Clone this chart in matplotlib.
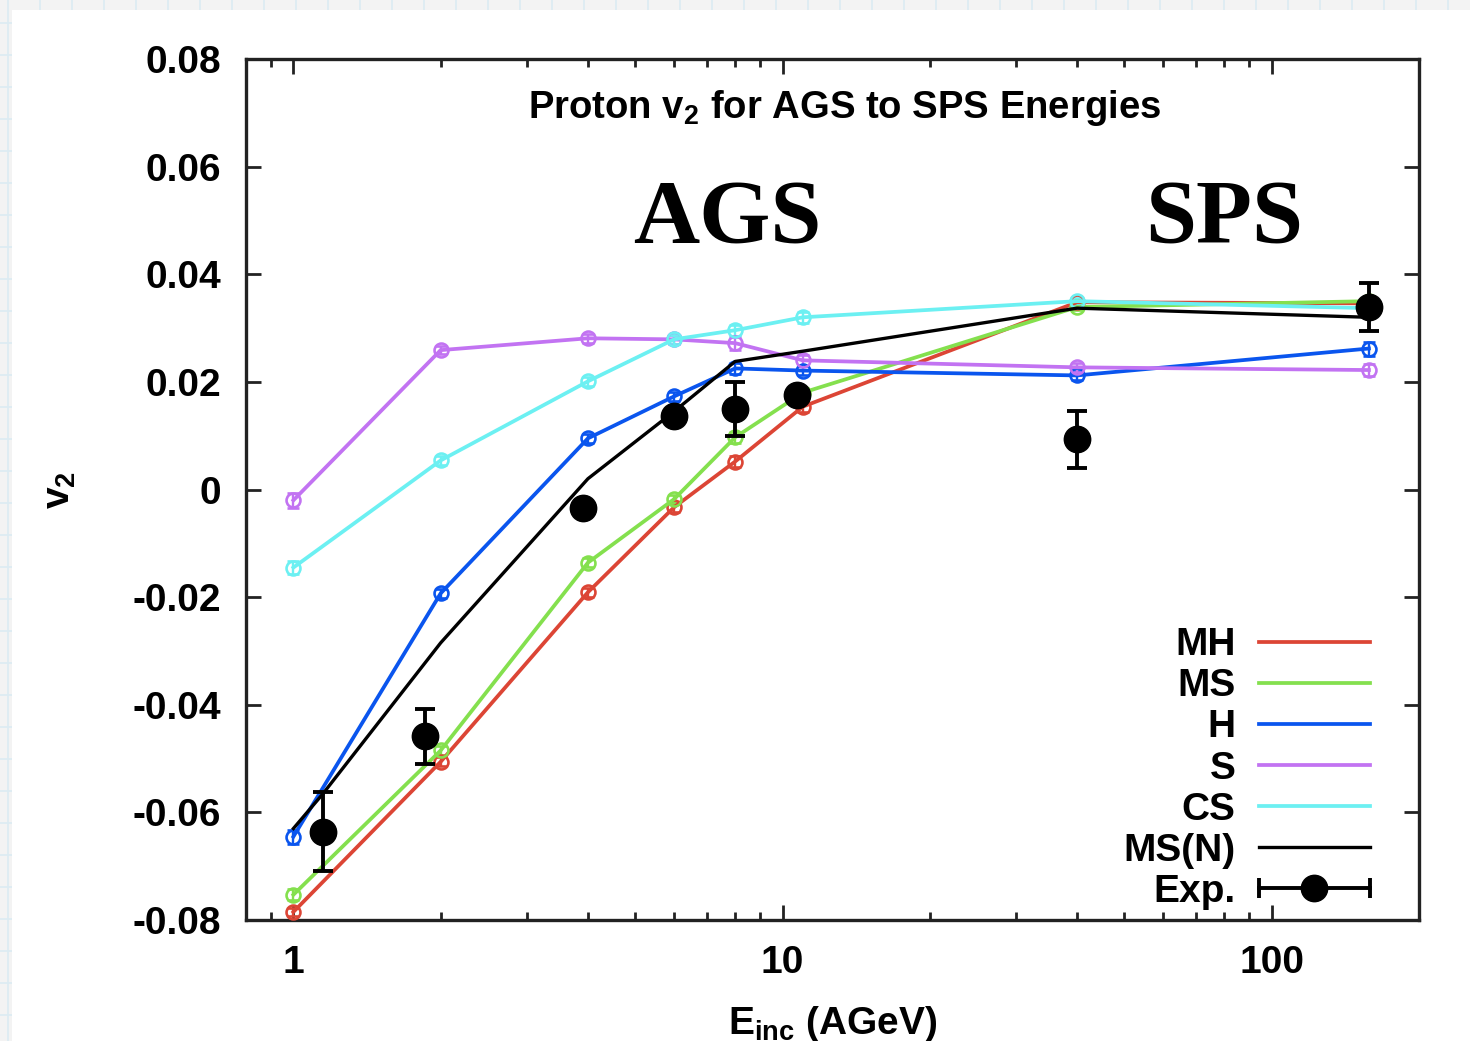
import matplotlib
matplotlib.use("Agg")
import matplotlib.pyplot as plt
from matplotlib.lines import Line2D
from matplotlib.patches import Rectangle
from matplotlib.legend_handler import HandlerLine2D, HandlerTuple
from matplotlib.ticker import LogLocator, NullFormatter

plt.rcParams['font.family'] = ['Liberation Sans', 'DejaVu Sans']
plt.rcParams['font.weight'] = 'bold'
plt.rcParams['mathtext.fontset'] = 'custom'
plt.rcParams['mathtext.rm'] = 'Liberation Sans:bold'
plt.rcParams['mathtext.it'] = 'Liberation Sans:bold'
plt.rcParams['mathtext.bf'] = 'Liberation Sans:bold'

# ---------------- data ----------------
energies = [1, 2, 4, 6, 8, 11, 40, 158]
v2_MH = [-0.0785, -0.0506, -0.0191, -0.0033, 0.0052, 0.0154, 0.0348, 0.0346]
v2_MS = [-0.0753, -0.0485, -0.0136, -0.0018, 0.0097, 0.0180, 0.0339, 0.0350]
v2_H = [-0.0645, -0.0193, 0.0095, 0.0173, 0.0225, 0.0221, 0.0212, 0.0262]
v2_S = [-0.0020, 0.0259, 0.0281, 0.0279, 0.0272, 0.0240, 0.0227, 0.0222]
v2_CS = [-0.0145, 0.0054, 0.0201, 0.0279, 0.0296, 0.0320, 0.0350, 0.0337]
err_MH = [0.0008, 0.0008, 0.0008, 0.0008, 0.0011, 0.0010, 0.0006, 0.0006]
err_MS = [0.0010, 0.0008, 0.0008, 0.0008, 0.0010, 0.0008, 0.0006, 0.0006]
err_H = [0.0013, 0.0008, 0.0008, 0.0008, 0.0010, 0.0008, 0.0008, 0.0013]
err_S = [0.0014, 0.0008, 0.0008, 0.0008, 0.0012, 0.0010, 0.0008, 0.0012]
err_CS = [0.0012, 0.0008, 0.0008, 0.0008, 0.0010, 0.0010, 0.0006, 0.0006]

energies_MSN = [1, 1.15, 2, 4, 6, 8, 11, 40, 158]
v2_MSN = [-0.0630, -0.0565, -0.0285, 0.0020, 0.0145, 0.0238, 0.0257, 0.0337, 0.0320]

energies_exp = [1.15, 1.86, 3.9, 6, 8, 10.7, 40, 158]
v2_exp = [-0.0636, -0.0459, -0.0035, 0.0136, 0.0150, 0.0175, 0.0093, 0.0339]
err_exp = [0.0073, 0.0052, 0.0008, 0.0008, 0.0050, 0.0010, 0.0053, 0.0045]

series_labels = ['MH', 'MS', 'H', 'S', 'CS']
series_colors = ['#dc4535', '#84e04e', '#0a55ee', '#c273f2', '#6cf0f2']

ytick_vals = [-0.08, -0.06, -0.04, -0.02, 0, 0.02, 0.04, 0.06, 0.08]
ytick_labels = ['-0.08', '-0.06', '-0.04', '-0.02', '0', '0.02', '0.04', '0.06', '0.08']
xtick_vals = [1, 10, 100]
xtick_labels = ['1', '10', '100']

# ---------------- figure ----------------
W, H = 1470, 1041
fig = plt.figure(figsize=(W / 100, H / 100), dpi=100, facecolor='#f3f3f3')

# faint graph-paper background outside the white panel
for gx in range(8, W, 32):
    fig.add_artist(Line2D([gx / W, gx / W], [0, 1], color='#dcebf2', lw=1.2, zorder=-5))
for gy in range(23, H, 32):
    fig.add_artist(Line2D([0, 1], [1 - gy / H, 1 - gy / H], color='#dcebf2', lw=1.2, zorder=-5))
fig.add_artist(Rectangle((12 / W, 0), 1, 1 - 10 / H, facecolor='white', edgecolor='none',
                         zorder=-4, transform=fig.transFigure))

ax = fig.add_axes([246 / W, 1 - 920 / H, (1419 - 246) / W, (920 - 59) / H])
ax.set_facecolor('white')
ax.set_xscale('log')
ax.set_xlim(0.8, 200)
ax.set_ylim(-0.08, 0.08)

all_v2 = [v2_MH, v2_MS, v2_H, v2_S, v2_CS]
all_err = [err_MH, err_MS, err_H, err_S, err_CS]
handles = []
for vals, errs, col, lab in zip(all_v2, all_err, series_colors, series_labels):
    ax.errorbar(energies, vals, yerr=errs, color=col, lw=2.7, marker='o', ms=10,
                mfc='none', mec=col, mew=1.9, elinewidth=1.7, capsize=4.5, capthick=1.7, zorder=3)
    handles.append(Line2D([], [], color=col, lw=2.7))

ax.plot(energies_MSN, v2_MSN, color='black', lw=2.4, zorder=4)
handles.append(Line2D([], [], color='black', lw=2.4))

ax.errorbar(energies_exp, v2_exp, yerr=err_exp, fmt='o', color='black', ms=19,
            elinewidth=2.8, capsize=7, capthick=2.8, zorder=5)

cap_line = Line2D([], [], color='black', lw=2.8, marker='|', ms=14, mew=2.8)
dot = Line2D([], [], color='black', ls='none', marker='o', ms=19)
handles.append((cap_line, dot))

labels = series_labels + ['MS(N)', 'Exp.']
leg = ax.legend(handles, labels, loc='lower right', bbox_to_anchor=(0.958, 0.012),
                frameon=False, markerfirst=False, fontsize=28, handlelength=2.85,
                handletextpad=0.6, labelspacing=0.13, borderpad=0, borderaxespad=0,
                handler_map={cap_line: HandlerLine2D(marker_pad=0, numpoints=2),
                             dot: HandlerLine2D(numpoints=1),
                             tuple: HandlerTuple(ndivide=1, pad=0)})

# ticks
ax.set_yticks(ytick_vals)
ax.set_yticklabels(ytick_labels)
ax.set_xticks(xtick_vals)
ax.set_xticklabels(xtick_labels)
ax.xaxis.set_minor_locator(LogLocator(base=10, subs=[2, 3, 4, 5, 6, 7, 8, 9]))
ax.xaxis.set_minor_formatter(NullFormatter())
ax.tick_params(which='both', direction='in', top=True, right=True, width=2, colors='#222222')
ax.tick_params(which='major', length=11, labelsize=28, pad=18, labelcolor='black')
ax.tick_params(which='minor', length=5.5)
ax.tick_params(axis='y', which='minor', left=False, right=False)
for sp in ax.spines.values():
    sp.set_linewidth(2.4)
    sp.set_color('#222222')

ax.set_ylabel(r'$\mathregular{v_2}$', fontsize=28, fontweight='bold')
ax.yaxis.set_label_coords(-0.143, 0.5)
ax.set_xlabel(r'$\mathregular{E_{inc}}$ (AGeV)', fontsize=28, fontweight='bold')
ax.xaxis.set_label_coords(0.5, -0.097)

ax.text(0.51, 0.943, r'Proton $\mathregular{v_2}$ for AGS to SPS Energies', transform=ax.transAxes,
        ha='center', va='center', fontsize=27.5, fontweight='bold')

ax.text(7.7, 0.0500, 'AGS', ha='center', va='center', fontsize=66, fontweight='bold',
        family=['Liberation Serif', 'DejaVu Serif'])
ax.text(80, 0.0500, 'SPS', ha='center', va='center', fontsize=66, fontweight='bold',
        family=['Liberation Serif', 'DejaVu Serif'])

fig.savefig('out.png', dpi=100, facecolor=fig.get_facecolor())
